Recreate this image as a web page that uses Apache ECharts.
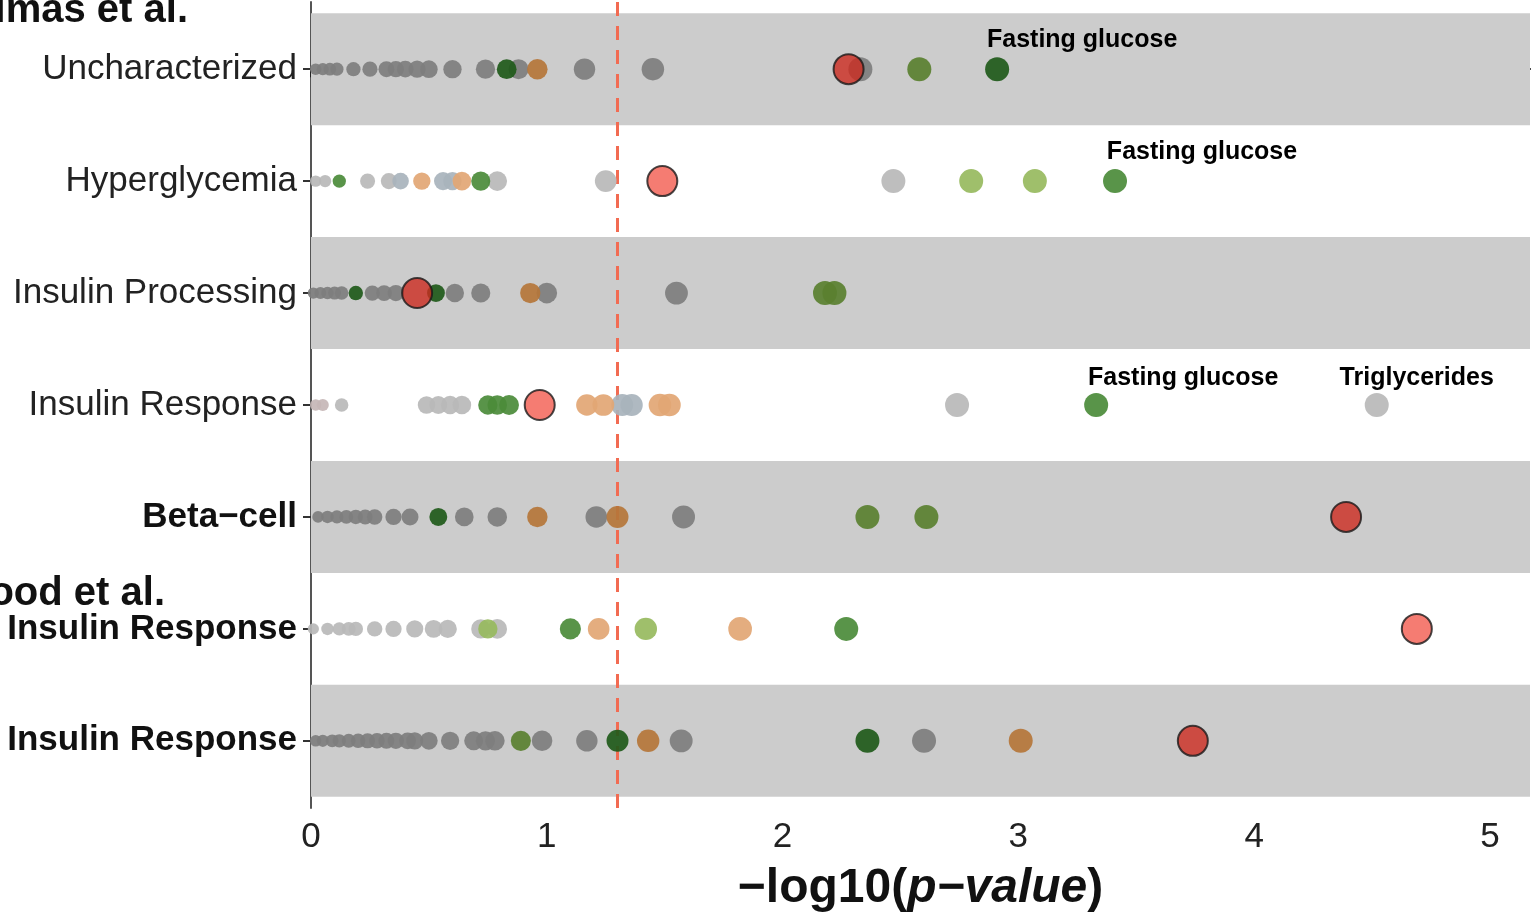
<!DOCTYPE html>
<html>
<head>
<meta charset="utf-8">
<script src="https://cdn.jsdelivr.net/npm/echarts@6/dist/echarts.min.js"></script>
<style>
  html, body { margin: 0; padding: 0; background: #fff; }
  #chart { width: 1531px; height: 913px; }
</style>
</head>
<body>
<div id="chart"></div>
<script>
// rows, top to bottom (index = y value)
var rowNames = ['Uncharacterized', 'Hyperglycemia', 'Insulin Processing', 'Insulin Response',
                'Beta\u2212cell', 'Insulin Response', 'Insulin Response'];
var boldRows = [4, 5, 6];
var bandRows = [0, 2, 4, 6];
var xTicks = [0, 1, 2, 3, 4, 5];
var pThreshold = 1.301; // -log10(0.05)

// points [x, row] grouped by colour class
var darkGray = [
  [0.02,0],[0.05,0],[0.08,0],[0.11,0],[0.18,0],[0.25,0],[0.32,0],[0.36,0],[0.40,0],[0.45,0],[0.50,0],
  [0.60,0],[0.74,0],[0.88,0],[1.16,0],[1.45,0],[2.33,0],
  [0.01,2],[0.04,2],[0.07,2],[0.10,2],[0.13,2],[0.26,2],[0.31,2],[0.36,2],[0.61,2],[0.72,2],[1.00,2],[1.55,2],
  [0.03,4],[0.07,4],[0.11,4],[0.15,4],[0.19,4],[0.23,4],[0.27,4],[0.35,4],[0.42,4],[0.65,4],[0.79,4],[1.21,4],[1.58,4],
  [0.02,6],[0.05,6],[0.09,6],[0.12,6],[0.16,6],[0.20,6],[0.24,6],[0.28,6],[0.32,6],[0.36,6],[0.41,6],[0.44,6],
  [0.50,6],[0.59,6],[0.69,6],[0.74,6],[0.78,6],[0.98,6],[1.17,6],[1.57,6],[2.60,6]
];
var lightGray = [
  [0.02,1],[0.06,1],[0.24,1],[0.33,1],[0.79,1],[1.25,1],[2.47,1],
  [0.13,3],[0.49,3],[0.54,3],[0.59,3],[0.64,3],[2.74,3],[4.52,3],
  [0.01,5],[0.07,5],[0.12,5],[0.16,5],[0.19,5],[0.27,5],[0.35,5],[0.44,5],[0.52,5],[0.58,5],[0.72,5],[0.79,5]
];
var pinkGray = [[0.02,3],[0.05,3]];
var blueGray = [[0.38,1],[0.56,1],[0.60,1],[1.32,3],[1.36,3]];
var orange = [[0.96,0],[0.93,2],[0.96,4],[1.30,4],[1.43,6],[3.01,6]];
var orangeLight = [[0.47,1],[0.64,1],[1.17,3],[1.24,3],[1.48,3],[1.52,3],[1.22,5],[1.82,5]];
var olive = [[2.58,0],[2.18,2],[2.22,2],[2.36,4],[2.61,4],[0.89,6]];
var greenLight = [[2.80,1],[3.07,1],[0.75,5],[1.42,5]];
var greenMid = [[0.12,1],[0.72,1],[3.41,1],[0.75,3],[0.79,3],[0.84,3],[3.33,3],[1.10,5],[2.27,5]];
var greenDark = [[0.83,0],[2.91,0],[0.19,2],[0.53,2],[0.54,4],[1.30,6],[2.36,6]];
var redDark = [[2.28,0],[0.45,2],[4.39,4],[3.74,6]];
var redLight = [[1.49,1],[0.97,3],[4.69,5]];

// labelled points
var annotations = [
  {x: 2.91, row: 0, text: 'Fasting glucose'},
  {x: 3.41, row: 1, text: 'Fasting glucose'},
  {x: 3.33, row: 3, text: 'Fasting glucose'},
  {x: 4.52, row: 3, text: 'Triglycerides'}
];
var annotationOffsets = [[85, -29], [87, -29], [87, -27], [40, -27]];

var FONT = '"Liberation Sans", Arial, Helvetica, sans-serif';

function dotSize(v) {
  return Math.min(24, 11 + 6 * Math.log(1 + 4 * v[0]));
}

function dots(name, data, color, z) {
  return {
    name: name,
    type: 'scatter',
    data: data,
    z: z,
    symbolSize: dotSize,
    itemStyle: { color: color, opacity: 0.92 },
    emphasis: { disabled: true }
  };
}

function bigDots(name, data, color) {
  return {
    name: name,
    type: 'scatter',
    data: data,
    z: 20,
    symbolSize: 30,
    itemStyle: { color: color, borderColor: '#1a1a1a', borderWidth: 2 },
    emphasis: { disabled: true }
  };
}

var chart = echarts.init(document.getElementById('chart'));

var bands = bandRows.map(function (r) {
  return [{ yAxis: r - 0.5 }, { yAxis: r + 0.5 }];
});

var base = dots('darkGray', darkGray, '#7e7e7e', 5);
base.markArea = {
  silent: true,
  itemStyle: { color: '#cccccc' },
  data: bands
};
base.markLine = {
  silent: true,
  symbol: 'none',
  label: { show: false },
  lineStyle: { color: '#f26b52', type: [14, 10], width: 3 },
  data: [{ xAxis: pThreshold }]
};

var series = [
  base,
  dots('lightGray', lightGray, '#b8b8b8', 5),
  dots('pinkGray', pinkGray, '#c6b6b6', 5),
  dots('blueGray', blueGray, '#a8b3bc', 6),
  dots('orange', orange, '#b5763a', 7),
  dots('orangeLight', orangeLight, '#e2a674', 7),
  dots('olive', olive, '#5a8030', 8),
  dots('greenLight', greenLight, '#97ba5e', 8),
  dots('greenMid', greenMid, '#4b8b3a', 9),
  dots('greenDark', greenDark, '#1f5a1a', 9),
  bigDots('redDark', redDark, '#cc2a1f'),
  bigDots('redLight', redLight, '#f35b4f'),
  {
    name: 'labels',
    type: 'scatter',
    z: 30,
    symbolSize: 1,
    itemStyle: { color: 'rgba(0,0,0,0)' },
    emphasis: { disabled: true },
    data: annotations.map(function (a, i) {
      return {
        value: [a.x, a.row],
        label: {
          show: true,
          position: 'inside',
          offset: annotationOffsets[i],
          formatter: a.text,
          fontFamily: FONT,
          fontWeight: 'bold',
          fontSize: 25,
          color: '#000',
          opacity: 1
        }
      };
    })
  }
];

var option = {
  animation: false,
  backgroundColor: '#ffffff',
  grid: { left: 311, right: 1, top: 2, bottom: 105, outerBoundsMode: 'none', containLabel: false },
  xAxis: {
    type: 'value',
    min: 0,
    max: 5.17,
    splitLine: { show: false },
    axisLine: { lineStyle: { color: '#111', width: 2 } },
    axisTick: { customValues: xTicks, length: 8, lineStyle: { color: '#222', width: 2 } },
    axisLabel: {
      customValues: xTicks,
      fontFamily: FONT,
      fontSize: 35,
      color: '#222',
      margin: 12
    },
    name: '{a|\u2212log10(}{b|p\u2212value}{a|)}',
    nameLocation: 'middle',
    nameGap: 57,
    nameTextStyle: {
      rich: {
        a: { fontFamily: FONT, fontSize: 48, fontWeight: 'bold', color: '#111' },
        b: { fontFamily: FONT, fontSize: 48, fontWeight: 'bold', fontStyle: 'italic', color: '#111' }
      }
    }
  },
  yAxis: {
    type: 'value',
    inverse: true,
    min: -0.6,
    max: 6.6,
    splitLine: { show: false },
    axisLine: { show: true, lineStyle: { color: '#555', width: 2 } },
    axisTick: { show: true, customValues: [0, 1, 2, 3, 4, 5, 6], length: 8, lineStyle: { color: '#333', width: 2 } },
    axisLabel: {
      customValues: [0, 1, 2, 3, 4, 5, 6],
      margin: 14,
      formatter: function (v) {
        var i = Math.round(v);
        var name = rowNames[i];
        return boldRows.indexOf(i) >= 0 ? '{b|' + name + '}' : '{n|' + name + '}';
      },
      rich: {
        n: { fontFamily: FONT, fontSize: 35, color: '#222' },
        b: { fontFamily: FONT, fontSize: 35, fontWeight: 'bold', color: '#111' }
      }
    }
  },
  graphic: [
    {
      type: 'text', x: 188, y: 11, z: 50,
      style: { text: 'Dimas et al.', textAlign: 'right', textVerticalAlign: 'middle',
               font: 'bold 40px ' + FONT, fill: '#111' }
    },
    {
      type: 'text', x: 165, y: 594, z: 50,
      style: { text: 'Wood et al.', textAlign: 'right', textVerticalAlign: 'middle',
               font: 'bold 40px ' + FONT, fill: '#111' }
    }
  ],
  series: series
};

chart.setOption(option);
</script>
</body>
</html>
